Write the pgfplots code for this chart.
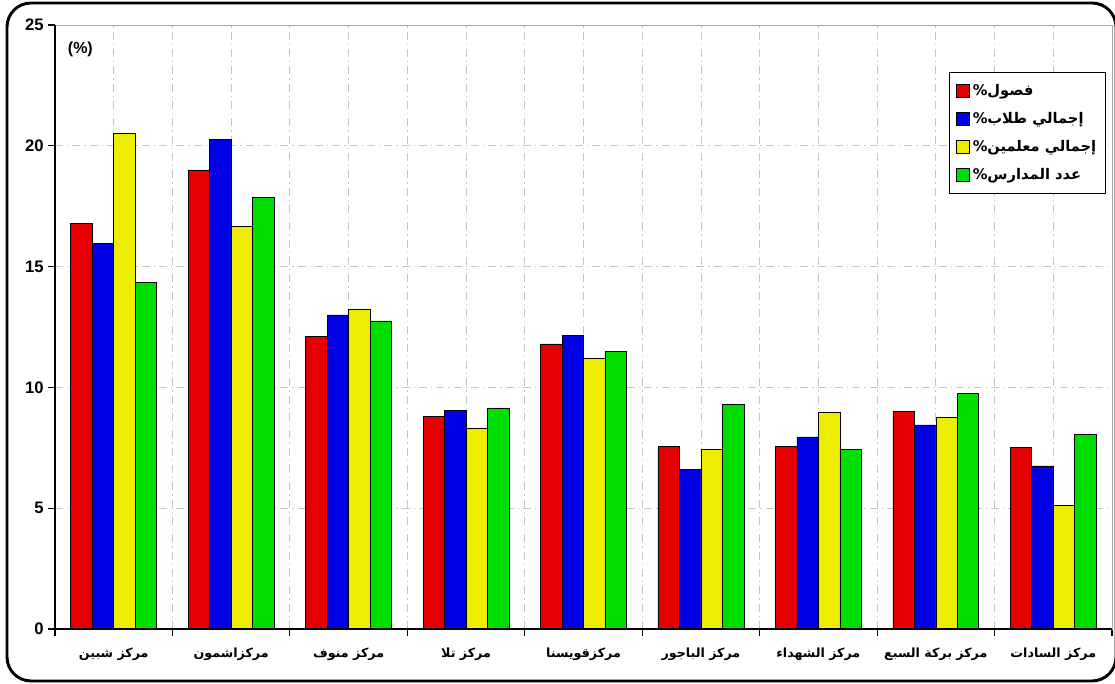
\documentclass[border=0pt]{standalone}
\usepackage{fontspec}
\setmainfont{Liberation Sans}
\newfontfamily\arabicfont[Script=Arabic]{DejaVu Sans}
\TeXXeTstate=1
\usepackage{pgfplots}
\pgfplotsset{compat=1.18}
\definecolor{barred}{RGB}{228,0,0}
\definecolor{barblue}{RGB}{0,0,228}
\definecolor{baryellow}{RGB}{238,236,0}
\definecolor{bargreen}{RGB}{0,222,0}

\begin{document}
\begin{tikzpicture}[x=0.75pt,y=0.75pt]
\useasboundingbox (0,0) rectangle (1115,684);
\draw[line width=2.2pt, rounded corners=18pt] (7,3) rectangle (1116,681);
\begin{axis}[
    at={(41.25pt,41.25pt)}, anchor=south west,
    scale only axis,
    width=792.75pt, height=453pt,
    xmin=-0.5, xmax=8.5, ymin=0, ymax=25,
    ytick={0,5,...,25},
    xtick={0,...,8},
    xticklabels={
        {\arabicfont\bfseries\beginR مركز شبين\endR},
        {\arabicfont\bfseries\beginR مركزاشمون\endR},
        {\arabicfont\bfseries\beginR مركز منوف\endR},
        {\arabicfont\bfseries\beginR مركز تلا\endR},
        {\arabicfont\bfseries\beginR مركزقويسنا\endR},
        {\arabicfont\bfseries\beginR مركز الباجور\endR},
        {\arabicfont\bfseries\beginR مركز الشهداء\endR},
        {\arabicfont\bfseries\beginR مركز بركة السبع\endR},
        {\arabicfont\bfseries\beginR مركز السادات\endR}},
    minor xtick={-0.5,0.5,...,8.5},
    major x tick style={draw=none},
    minor x tick style={black, line width=0.8pt},
    y tick style={black, line width=0.8pt},
    tick align=outside,
    major tick length=5pt, minor tick length=5pt,
    xmajorgrids, xminorgrids, ymajorgrids,
    major grid style={gray!45, dash pattern=on 6pt off 3pt on 1pt off 3pt, line width=0.6pt},
    minor grid style={gray!45, dash pattern=on 6pt off 3pt on 1pt off 3pt, line width=0.6pt},
    axis line style={gray!70, line width=0.6pt},
    ticklabel style={font=\bfseries\fontsize{12.5}{14}\selectfont},
    xticklabel style={font=\fontsize{9.5}{12}\selectfont},
    xtick pos=bottom, ytick pos=left,
    /pgf/number format/assume math mode=true,
    xticklabel shift=6pt,
    ybar=0pt, bar width=0.183,
    legend style={at={(rel axis cs:0.9943,0.922)}, anchor=north east,
        draw=black, line width=0.6pt, font=\fontsize{11}{13}\selectfont,
        row sep=7pt, inner xsep=5pt, inner ysep=7pt},
    legend cell align=left,
    legend image code/.code={\draw[#1, line width=0.5pt] (0pt,-5pt) rectangle (10pt,5pt);},
    clip=false,
]
\addplot[draw=black, line width=0.5pt, fill=barred] coordinates {
    (0,16.8) (1,19.0) (2,12.1) (3,8.8) (4,11.8) (5,7.55) (6,7.55) (7,9.0) (8,7.5)};
\addplot[draw=black, line width=0.5pt, fill=barblue] coordinates {
    (0,15.95) (1,20.25) (2,13.0) (3,9.05) (4,12.15) (5,6.6) (6,7.95) (7,8.45) (8,6.75)};
\addplot[draw=black, line width=0.5pt, fill=baryellow] coordinates {
    (0,20.5) (1,16.65) (2,13.25) (3,8.3) (4,11.2) (5,7.45) (6,8.95) (7,8.75) (8,5.1)};
\addplot[draw=black, line width=0.5pt, fill=bargreen] coordinates {
    (0,14.35) (1,17.85) (2,12.75) (3,9.15) (4,11.5) (5,9.3) (6,7.45) (7,9.75) (8,8.05)};
\legend{{\arabicfont\bfseries\beginR فصول\%\endR},{\arabicfont\bfseries\beginR إجمالي طلاب\%\endR},{\arabicfont\bfseries\beginR إجمالي معلمين\%\endR},{\arabicfont\bfseries\beginR عدد المدارس\%\endR}}
\draw[black, line width=1.5pt] (rel axis cs:0,1) -- (rel axis cs:0,0) -- (rel axis cs:1,0);
\node[font=\bfseries\fontsize{12}{14}\selectfont] at (rel axis cs:0.024,0.96) {(\%)};
\end{axis}
\end{tikzpicture}
\end{document}
